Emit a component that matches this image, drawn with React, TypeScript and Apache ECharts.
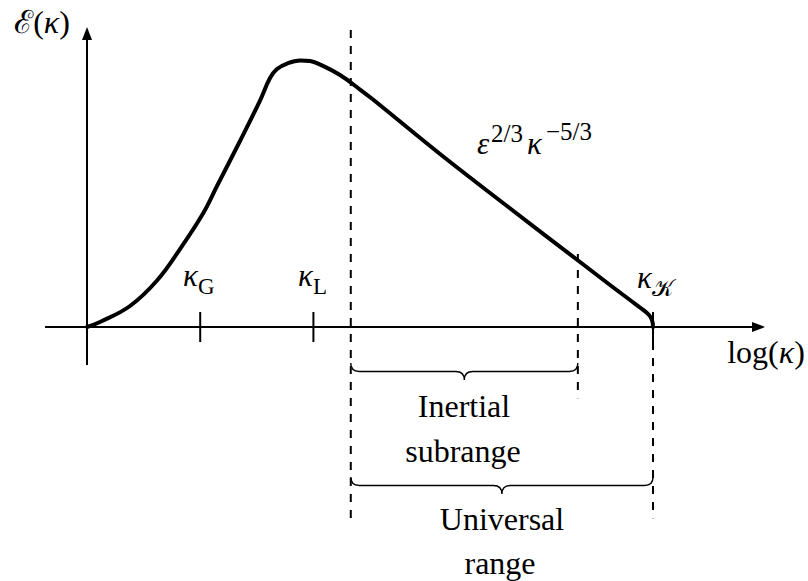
import { useEffect, useRef } from "react";
import * as echarts from "echarts";

// Horizontal unit: one tick spacing on the log(κ) axis; the vertical axis uses the same unit.
const spectrumX = [0, 0.1148, 0.3799, 0.6184, 0.8216, 1.0247, 1.1484, 1.3516, 1.5283, 1.6166, 1.6784, 1.7668, 1.8816, 1.97, 2.0583, 2.235, 2.4117, 2.5265, 3.1184, 3.7102, 4.3551, 4.6201, 4.7968, 4.9028, 4.9647, 4.9912, 5];
const spectrumY = [0, 0.0442, 0.1855, 0.4108, 0.689, 1.0027, 1.2456, 1.6431, 2.0009, 2.1996, 2.2792, 2.3277, 2.3542, 2.3498, 2.3189, 2.2261, 2.098, 2.0097, 1.5283, 1.0689, 0.5742, 0.371, 0.2385, 0.159, 0.106, 0.0618, 0];

// Characteristic wavenumbers κ_G, κ_L, κ_𝒦
const kappaTicks = [1, 2, 5];
const tickSubscripts = ["G", "L", "𝒦"];

// Range bounds on the log(κ) axis
const inertialRange = [2.33, 4.336];
const universalRange = [2.33, 5];

// Vertical extents of the dashed guides [x, yFrom, yTo]
const guideLines = [
  [2.33, 2.624, -1.69],
  [4.336, 0.645, -0.63],
  [5, -0.1325, -1.69],
];

// Brace baselines (level of the brace ends)
const braceLevels = [-0.318, -1.325];

const axisX = [-0.371, 5.932];
const axisY = [-0.336, 2.593];
const tickHalf = 0.1325;

const X_MIN = -0.7686;
const X_MAX = 6.369;
const Y_MIN = -2.244;
const Y_MAX = 2.889;

const SERIF = '"Liberation Serif", "DejaVu Serif", serif';

function txt(text: string, x: number, y: number, size: number, italic: boolean, align: string = "left") {
  return {
    type: "text",
    x,
    y,
    silent: true,
    style: {
      text,
      fill: "#000",
      font: `${italic ? "italic " : ""}${size}px ${SERIF}`,
      align,
      verticalAlign: "middle",
      textAlign: align,
      textVerticalAlign: "middle",
    },
  };
}

export default function App() {
  const ref = useRef<HTMLDivElement>(null);

  useEffect(() => {
    if (!ref.current) return;
    const chart = echarts.init(ref.current, null, { renderer: "svg" });

    const curve = spectrumX.map((x, i) => [x, spectrumY[i]]);

    const tickSeries = kappaTicks.map((k) => ({
      type: "line",
      data: [
        [k, tickHalf],
        [k, -tickHalf],
      ],
      symbol: "none",
      silent: true,
      lineStyle: { color: "#000", width: 2 },
    }));

    const guideSeries = guideLines.map(([x, y0, y1]) => ({
      type: "line",
      data: [
        [x, y0],
        [x, y1],
      ],
      symbol: "none",
      silent: true,
      lineStyle: { color: "#000", width: 2, type: [8, 8] },
    }));

    const braceData = [
      [inertialRange[0], inertialRange[1], braceLevels[0]],
      [universalRange[0], universalRange[1], braceLevels[1]],
    ];

    const option: any = {
      animation: false,
      grid: { left: 0, right: 0, top: 0, bottom: 0 },
      xAxis: { type: "value", min: X_MIN, max: X_MAX, show: false },
      yAxis: { type: "value", min: Y_MIN, max: Y_MAX, show: false },
      series: [
        {
          type: "line",
          data: [],
          silent: true,
          markLine: {
            silent: true,
            animation: false,
            symbol: ["none", "triangle"],
            symbolSize: [10, 13],
            label: { show: false },
            lineStyle: { color: "#000", width: 2, type: "solid" },
            data: [
              [{ coord: [axisX[0], 0] }, { coord: [axisX[1], 0] }],
              [{ coord: [0, axisY[0]] }, { coord: [0, axisY[1]] }],
            ],
          },
        },
        ...tickSeries,
        ...guideSeries,
        {
          type: "line",
          data: curve,
          smooth: 0.4,
          symbol: "none",
          silent: true,
          lineStyle: { color: "#000", width: 4, join: "round", cap: "round" },
        },
        {
          type: "custom",
          silent: true,
          data: braceData,
          renderItem: (_params: any, api: any) => {
            const a = api.coord([api.value(0), api.value(2)]);
            const b = api.coord([api.value(1), api.value(2)]);
            const amp = 17;
            const h = amp / 2;
            const x0 = a[0];
            const x1 = b[0];
            const y = a[1];
            const xm = (x0 + x1) / 2;
            const d =
              `M${x0} ${y} Q${x0} ${y + h} ${x0 + h} ${y + h} ` +
              `L${xm - h} ${y + h} Q${xm} ${y + h} ${xm} ${y + amp} ` +
              `Q${xm} ${y + h} ${xm + h} ${y + h} ` +
              `L${x1 - h} ${y + h} Q${x1} ${y + h} ${x1} ${y}`;
            return {
              type: "path",
              shape: { pathData: d },
              style: { fill: "none", stroke: "#000", lineWidth: 1.4 },
            };
          },
        },
      ],
      graphic: [
        // axis titles
        {
          type: "text",
          x: 42,
          y: 22,
          silent: true,
          style: {
            text: "{s|ℰ}{r|(}{i|κ}{r|)}",
            fill: "#000",
            align: "center",
            verticalAlign: "middle",
            textAlign: "center",
            textVerticalAlign: "middle",
            rich: {
              s: { fontFamily: SERIF, fontSize: 32, fill: "#000" },
              r: { fontFamily: SERIF, fontSize: 32, fill: "#000" },
              i: { fontFamily: SERIF, fontSize: 32, fontStyle: "italic", fill: "#000" },
            },
          },
        },
        {
          type: "text",
          x: 766,
          y: 352,
          silent: true,
          style: {
            text: "{r|log(}{i|κ}{r|)}",
            fill: "#000",
            align: "center",
            verticalAlign: "middle",
            textAlign: "center",
            textVerticalAlign: "middle",
            rich: {
              r: { fontFamily: SERIF, fontSize: 32, fill: "#000" },
              i: { fontFamily: SERIF, fontSize: 32, fontStyle: "italic", fill: "#000" },
            },
          },
        },
        // wavenumber labels
        txt("κ", 198, 275, 31, true, "right"),
        txt(tickSubscripts[0], 198, 286, 23, false),
        txt("κ", 313, 275, 31, true, "right"),
        txt(tickSubscripts[1], 313, 286, 23, false),
        txt("κ", 652, 277, 31, true, "right"),
        txt(tickSubscripts[2], 652, 288, 23, false),
        // Kolmogorov law
        txt("ε", 477, 143, 31, true),
        txt("2/3", 491, 133, 25, false),
        txt("κ", 527, 143, 31, true),
        txt("−5/3", 546, 131, 25, false),
        // range captions
        txt("Inertial", 464, 406, 32, false, "center"),
        txt("subrange", 463, 451, 32, false, "center"),
        txt("Universal", 502, 519, 32, false, "center"),
        txt("range", 500, 563, 32, false, "center"),
      ],
    };

    chart.setOption(option);
    return () => chart.dispose();
  }, []);

  return (
    <div
      ref={ref}
      style={{ position: "fixed", left: 0, top: 0, width: 808, height: 581, background: "#fff" }}
    />
  );
}
